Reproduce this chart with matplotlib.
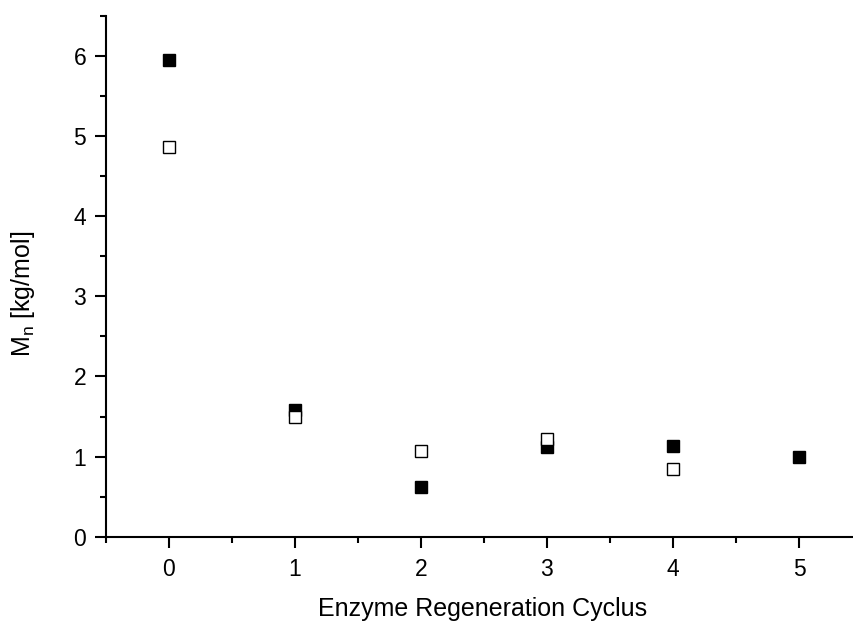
import matplotlib
matplotlib.use("Agg")
import matplotlib.pyplot as plt
from matplotlib.ticker import MultipleLocator

plt.rcParams['font.family'] = ['Liberation Sans', 'DejaVu Sans']

cycles_filled = [0, 1, 2, 3, 4, 5]
mn_filled = [5.95, 1.58, 0.62, 1.12, 1.13, 0.99]
cycles_open = [0, 1, 2, 3, 4]
mn_open = [4.86, 1.49, 1.07, 1.22, 0.85]

W, H = 854, 624
fig = plt.figure(figsize=(W / 100, H / 100), dpi=100)
left, right, bottom, top = 105.7, 862.0, 536.7, 16.0
ax = fig.add_axes([left / W, (H - bottom) / H, (right - left) / W, (bottom - top) / H])

ax.plot(cycles_filled, mn_filled, linestyle='none', marker='s', markersize=8.6,
        markerfacecolor='black', markeredgecolor='black', markeredgewidth=1, clip_on=False, zorder=3)
ax.plot(cycles_open, mn_open, linestyle='none', marker='s', markersize=8.6,
        markerfacecolor='white', markeredgecolor='black', markeredgewidth=1, clip_on=False, zorder=4)

ax.set_xlim(-0.5, 5.5)
ax.set_ylim(0, 6.5)
ax.xaxis.set_major_locator(MultipleLocator(1))
ax.xaxis.set_minor_locator(MultipleLocator(0.5))
ax.yaxis.set_major_locator(MultipleLocator(1))
ax.yaxis.set_minor_locator(MultipleLocator(0.5))

for s in ['top', 'right']:
    ax.spines[s].set_visible(False)
for s in ['left', 'bottom']:
    ax.spines[s].set_linewidth(1.5)

ax.tick_params(axis='both', which='major', direction='out', length=8, width=1.5,
               labelsize=16.5)
ax.tick_params(axis='y', which='major', pad=6)
ax.tick_params(axis='x', which='major', pad=7)
ax.tick_params(axis='both', which='minor', direction='out', length=4.5, width=1.5)

fig.text(483 / W, 1 - 609 / H, 'Enzyme Regeneration Cyclus', fontsize=18,
         ha='center', va='center')
fig.text(23 / W, 1 - 294 / H, r'M$_\mathregular{n}$ [kg/mol]', fontsize=18,
         ha='center', va='center', rotation=90)

fig.savefig('out.png', dpi=100)
